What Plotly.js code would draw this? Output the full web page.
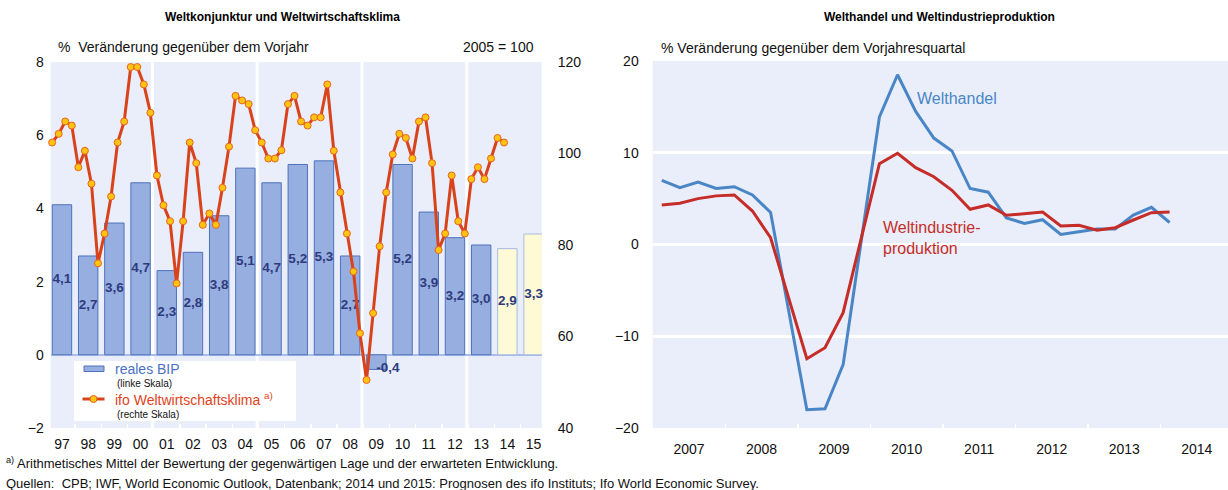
<!DOCTYPE html>
<html><head><meta charset="utf-8">
<script src="https://cdn.plot.ly/plotly-3.0.1.min.js"></script>
<style>body{margin:0;background:#fff}#chart{width:1228px;height:490px}</style>
</head><body><div id="chart"></div>
<script>
// ---------------- data ----------------
const years = [1997,1998,1999,2000,2001,2002,2003,2004,2005,2006,2007,2008,2009,2010,2011,2012,2013,2014,2015];
const gdpGrowth = [4.1,2.7,3.6,4.7,2.3,2.8,3.8,5.1,4.7,5.2,5.3,2.7,-0.4,5.2,3.9,3.2,3.0,2.9,3.3];
const forecastFromYear = 2014;
// ifo Weltwirtschaftsklima, quarterly, 1997 Q1 .. 2014 Q2 (2005 = 100)
const ifoClimate = [
  102.4,104.3,107.0,106.1,
  97.0,100.6,93.4,76.0,
  82.5,90.6,102.4,107.0,
  118.9,118.9,115.1,108.9,
  95.2,88.7,85.2,71.6,
  85.2,102.4,97.9,84.4,
  86.9,84.4,92.5,101.5,
  112.6,111.6,110.8,105.1,
  102.4,98.9,98.9,100.7,
  110.8,112.6,107.0,106.1,
  107.9,107.9,115.1,100.6,
  91.5,82.5,74.2,60.7,
  50.5,65.1,79.7,91.5,
  99.8,104.3,103.4,98.9,
  107.0,107.9,97.9,78.9,
  82.5,95.2,85.2,82.5,
  94.4,97.0,94.4,98.9,
  103.4,102.4
];
const ifoStartYear = 1997;
// Right panel: quarterly, 2007 Q1 .. 2014 Q1
const quarterStartYear = 2007;
const worldTrade = [7.0,6.2,6.8,6.1, 6.3,5.4,3.5,-7.3, -18.0,-17.9,-13.1,0.4, 13.9,18.5,14.5,11.6, 10.2,6.1,5.7,2.9, 2.3,2.7,1.1,1.4, 1.7,1.7,3.2,4.05, 2.4];
const worldIndustry = [4.3,4.5,5.0,5.3, 5.4,3.65,0.74,-5.9, -12.45,-11.25,-7.43,0.7, 8.8,9.94,8.37,7.39, 5.91,3.84,4.31,3.18, 3.32,3.54,2.02,2.09, 1.55,1.83,2.67,3.47, 3.54];
const rightYearTicks = [2007,2008,2009,2010,2011,2012,2013,2014];

// ---------------- helpers ----------------
const W = 1228, H = 490;
const px = x => x / W;
const py = y => 1 - y / H;
const FONT = 'Liberation Sans, Arial, sans-serif';
const fmt = v => v.toFixed(1).replace('.', ',');

const ifoX = ifoClimate.map((_, i) => ifoStartYear + Math.floor(i / 4) + ((i % 4) + 0.5) / 4 - 0.5);
const qX = worldTrade.map((_, i) => quarterStartYear + (i + 0.5) / 4);

const BAR_FILL = '#97aee0', BAR_LINE = '#4e73bb';
const FC_FILL = '#fffad6', FC_LINE = '#a6bae4';
const IFO_RED = '#d9431c', IFO_YEL = '#ffc312';
const TRADE_BLUE = '#4a86c6', IND_RED = '#c62d28';
const LABEL_NAVY = '#2f3b7e';

const isFc = years.map(y => y >= forecastFromYear);

const traces = [
  {
    type: 'bar', x: years, y: gdpGrowth, xaxis: 'x', yaxis: 'y', width: 0.74,
    marker: { color: isFc.map(f => f ? FC_FILL : BAR_FILL), line: { color: isFc.map(f => f ? FC_LINE : BAR_LINE), width: 1 } },
    hoverinfo: 'skip', showlegend: false
  },
  {
    type: 'scatter', mode: 'text', x: years, y: gdpGrowth.map(v => v / 2), xaxis: 'x', yaxis: 'y',
    text: gdpGrowth.map(fmt), textposition: gdpGrowth.map(v => v < 0 ? 'bottom right' : 'middle center'),
    textfont: { family: FONT, size: 13.5, color: LABEL_NAVY, weight: 'bold' },
    hoverinfo: 'skip', showlegend: false, cliponaxis: false
  },
  {
    type: 'scatter', mode: 'lines+markers', x: ifoX, y: ifoClimate, xaxis: 'x', yaxis: 'y2',
    line: { color: IFO_RED, width: 3 },
    marker: { size: 7, color: IFO_YEL, line: { color: '#e8641e', width: 1 } },
    hoverinfo: 'skip', showlegend: false, cliponaxis: false
  },
  {
    type: 'scatter', mode: 'lines', x: qX, y: worldTrade, xaxis: 'x3', yaxis: 'y3',
    line: { color: TRADE_BLUE, width: 3 }, hoverinfo: 'skip', showlegend: false
  },
  {
    type: 'scatter', mode: 'lines', x: qX, y: worldIndustry, xaxis: 'x3', yaxis: 'y3',
    line: { color: IND_RED, width: 3 }, hoverinfo: 'skip', showlegend: false
  }
];

const leftDom = [px(50.7), px(541.7)];
const leftYDom = [py(428), py(62)];
const rightDom = [px(652.7), 1];
const rightYDom = [py(428), py(61)];

const tickFont = { family: FONT, size: 14, color: '#111' };

const shapes = [];
// vertical white separators in the left panel
[2000.45, 2004.45, 2008.45, 2012.45].forEach(xv => shapes.push({
  type: 'line', xref: 'x', yref: 'paper', x0: xv, x1: xv, y0: leftYDom[0], y1: leftYDom[1],
  line: { color: '#ffffff', width: 3 }, layer: 'below'
}));
// legend box
shapes.push({ type: 'rect', xref: 'paper', yref: 'paper', x0: px(74), x1: px(296), y0: py(421), y1: py(361), fillcolor: '#ffffff', line: { width: 0 }, layer: 'above' });
shapes.push({ type: 'rect', xref: 'paper', yref: 'paper', x0: px(84), x1: px(104), y0: py(371.5), y1: py(366), fillcolor: BAR_FILL, line: { color: BAR_LINE, width: 1 }, layer: 'above' });
shapes.push({ type: 'line', xref: 'paper', yref: 'paper', x0: px(82.5), x1: px(104.5), y0: py(399), y1: py(399), line: { color: IFO_RED, width: 3 }, layer: 'above' });
shapes.push({ type: 'circle', xref: 'paper', yref: 'paper', x0: px(90), x1: px(97), y0: py(402.5), y1: py(395.5), fillcolor: IFO_YEL, line: { color: '#e8641e', width: 1 }, layer: 'above' });

const ann = (x, y, text, opts = {}) => Object.assign({
  xref: 'paper', yref: 'paper', x: px(x), y: py(y), text, showarrow: false,
  xanchor: 'left', yanchor: 'middle', font: { family: FONT, size: 14, color: '#111' }
}, opts);

const annotations = [
  ann(282, 17, '<b>Weltkonjunktur und Weltwirtschaftsklima</b>', { xanchor: 'center', font: { family: FONT, size: 12, color: '#000' } }),
  ann(939, 17, '<b>Welthandel und Weltindustrieproduktion</b>', { xanchor: 'center', font: { family: FONT, size: 12, color: '#000' } }),
  ann(56, 47, '%  Veränderung gegenüber dem Vorjahr'),
  ann(536, 47, '2005 = 100', { xanchor: 'right' }),
  ann(659, 48, '% Veränderung gegenüber dem Vorjahresquartal'),
  // legend texts
  ann(113, 369, 'reales BIP', { font: { family: FONT, size: 14, color: '#4a72c4' } }),
  ann(115, 383.5, '(linke Skala)', { font: { family: FONT, size: 10, color: '#111' } }),
  ann(113, 399, 'ifo Weltwirtschaftsklima <sup>a)</sup>', { font: { family: FONT, size: 14, color: '#e0431c' } }),
  ann(115, 414.5, '(rechte Skala)', { font: { family: FONT, size: 10, color: '#111' } }),
  // right panel labels
  ann(915, 99, 'Welthandel', { font: { family: FONT, size: 16, color: TRADE_BLUE } }),
  ann(881, 238, 'Weltindustrie-<br>produktion', { align: 'left', font: { family: FONT, size: 16, color: IND_RED } }),
  // footnotes
  ann(4, 463, '<sup>a)</sup> Arithmetisches Mittel der Bewertung der gegenwärtigen Lage und der erwarteten Entwicklung.', { font: { family: FONT, size: 13, color: '#111' } }),
  ann(4, 483, 'Quellen:  CPB; IWF, World Economic Outlook, Datenbank; 2014 und 2015: Prognosen des ifo Instituts; Ifo World Economic Survey.', { font: { family: FONT, size: 13, color: '#111' } })
];

const layout = {
  width: W, height: H,
  margin: { l: 0, r: 0, t: 0, b: 0, pad: 0 },
  paper_bgcolor: '#ffffff', plot_bgcolor: '#e9eefa',
  font: { family: FONT, size: 14, color: '#111' },
  showlegend: false, bargap: 0,
  xaxis: {
    domain: leftDom, range: [1996.57, 2015.31], anchor: 'y',
    tickmode: 'array', tickvals: years, ticktext: years.map(y => String(y).slice(2)),
    ticks: '', showgrid: false, zeroline: false, showline: false,
    tickfont: tickFont, ticklabelstandoff: 6,
    minor: { tickmode: 'linear', tick0: 0.5, dtick: 1, ticks: 'inside', ticklen: 4, tickcolor: '#ffffff', tickwidth: 1.5, showgrid: false }
  },
  yaxis: {
    domain: leftYDom, range: [-2, 8], dtick: 2, tick0: 0, anchor: 'x',
    showgrid: false, zeroline: true, zerolinecolor: '#a9bde8', zerolinewidth: 2,
    ticks: '', tickfont: tickFont, ticklabelstandoff: 6, showline: false
  },
  yaxis2: {
    overlaying: 'y', side: 'right', anchor: 'x', range: [40, 120], dtick: 20, tick0: 40,
    showgrid: false, zeroline: false, ticks: '', tickfont: tickFont, ticklabelstandoff: 15, showline: false
  },
  xaxis3: {
    domain: rightDom, range: [2007, 2014.93], anchor: 'y3',
    tickmode: 'array', tickvals: rightYearTicks.map(y => y + 0.5), ticktext: rightYearTicks.map(String),
    ticks: '', showgrid: false, zeroline: false, showline: false,
    tickfont: tickFont, ticklabelstandoff: 11,
    minor: { tickmode: 'linear', tick0: 0, dtick: 1, ticks: 'inside', ticklen: 4, tickcolor: '#ffffff', tickwidth: 1.5, showgrid: false }
  },
  yaxis3: {
    domain: rightYDom, range: [-20, 20], dtick: 10, tick0: 0, anchor: 'x3',
    showgrid: true, gridcolor: '#ffffff', gridwidth: 3,
    zeroline: true, zerolinecolor: '#ffffff', zerolinewidth: 3,
    ticks: '', tickfont: tickFont, ticklabelstandoff: 13, showline: false
  },
  shapes, annotations
};

Plotly.newPlot('chart', traces, layout, { staticPlot: true, displayModeBar: false });
</script></body></html>
